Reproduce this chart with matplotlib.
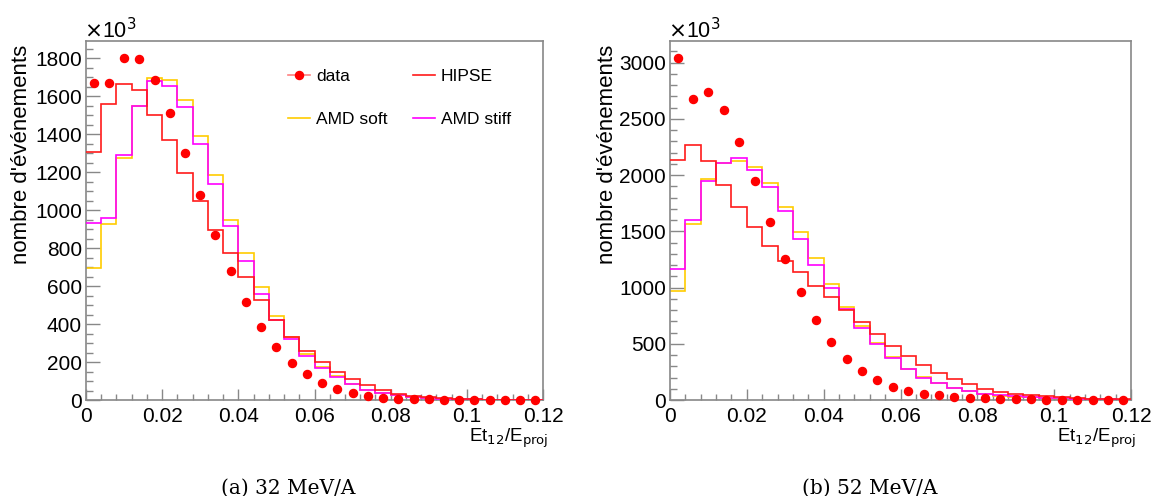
import numpy as np
import matplotlib
matplotlib.use("Agg")
import matplotlib.pyplot as plt
from matplotlib.lines import Line2D
from matplotlib.ticker import MultipleLocator

# ---------------- data (values in units of 10^3) ----------------
bin_edges = np.linspace(0.0, 0.12, 31)
bin_centers = 0.5 * (bin_edges[:-1] + bin_edges[1:])

data_32 = [1670, 1670, 1800, 1797, 1688, 1512, 1302, 1082, 867, 680, 517, 384, 278, 197, 136,
           91, 60, 39, 23, 12, 7, 5, 3, 2, 1, 1, 1, 0, 0, 0]
hipse_32 = [1306, 1561, 1665, 1633, 1503, 1371, 1198, 1047, 898, 774, 646, 526, 422, 331, 260,
            202, 146, 111, 79, 53, 32, 23, 14, 9, 5, 3, 2, 1, 1, 1]
amd_soft_32 = [697, 929, 1276, 1552, 1697, 1686, 1580, 1389, 1184, 950, 774, 593, 445, 334, 241,
               173, 124, 85, 53, 36, 25, 17, 11, 7, 4, 3, 2, 1, 1, 0]
amd_stiff_32 = [934, 959, 1292, 1552, 1681, 1653, 1545, 1350, 1139, 919, 732, 560, 422, 320, 232,
                171, 121, 83, 51, 35, 25, 18, 12, 7, 5, 3, 2, 1, 1, 0]

data_52 = [3043, 2679, 2735, 2579, 2292, 1946, 1585, 1250, 957, 709, 520, 366, 256, 177, 119,
           84, 56, 41, 29, 20, 14, 10, 7, 5, 3, 2, 2, 1, 1, 1]
hipse_52 = [2138, 2268, 2129, 1913, 1715, 1543, 1368, 1239, 1135, 1017, 919, 804, 695, 590, 483,
            395, 310, 242, 183, 138, 94, 70, 52, 41, 32, 25, 18, 12, 8, 5]
amd_soft_52 = [970, 1561, 1969, 2111, 2129, 2070, 1928, 1715, 1493, 1263, 1028, 828, 656, 508, 381,
               280, 205, 150, 110, 80, 56, 40, 30, 24, 18, 13, 9, 6, 4, 3]
amd_stiff_52 = [1165, 1603, 1949, 2111, 2155, 2046, 1898, 1680, 1431, 1200, 999, 813, 644, 500, 372,
                272, 200, 147, 109, 79, 56, 41, 32, 26, 20, 15, 10, 7, 5, 3]

x_ticks = [0, 0.02, 0.04, 0.06, 0.08, 0.1, 0.12]
x_tick_labels = ["0", "0.02", "0.04", "0.06", "0.08", "0.1", "0.12"]
captions = ["(a) 32 MeV/A", "(b) 52 MeV/A"]
legend_labels = ["data", "HIPSE", "AMD soft", "AMD stiff"]

# ---------------- style ----------------
plt.rcParams['font.family'] = ['Liberation Sans', 'DejaVu Sans']
C_DATA = '#ff0000'
C_HIPSE = '#ff1a1a'
C_SOFT = '#ffcc00'
C_STIFF = '#ff00ff'
GREY = '#888888'

W, H = 1155, 496
fig = plt.figure(figsize=(W / 100, H / 100), dpi=100)


def px_axes(x0, x1, ytop, ybot):
    return fig.add_axes([x0 / W, 1 - ybot / H, (x1 - x0) / W, (ybot - ytop) / H])


axL = px_axes(86, 543, 41, 400)
axR = px_axes(670, 1131, 41, 400)

panels = [
    (axL, data_32, hipse_32, amd_soft_32, amd_stiff_32, 1892, 200, 50),
    (axR, data_52, hipse_52, amd_soft_52, amd_stiff_52, 3193, 500, 100),
]

for ax, dat, hip, soft, stiff, ymax, ymaj, ymin in panels:
    ax.stairs(soft, bin_edges, color=C_SOFT, lw=1.2, baseline=None, zorder=2)
    ax.stairs(stiff, bin_edges, color=C_STIFF, lw=1.2, baseline=None, zorder=3)
    ax.stairs(hip, bin_edges, color=C_HIPSE, lw=1.2, baseline=None, zorder=4)
    ax.plot(bin_centers, dat, 'o', color=C_DATA, ms=5.8, mec=C_DATA, zorder=5, clip_on=False)
    ax.set_xlim(0, 0.12)
    ax.set_ylim(0, ymax)
    ax.set_xticks(x_ticks)
    ax.set_xticklabels(x_tick_labels)
    ax.xaxis.set_minor_locator(MultipleLocator(0.004))
    ax.yaxis.set_major_locator(MultipleLocator(ymaj))
    ax.yaxis.set_minor_locator(MultipleLocator(ymin))
    ax.tick_params(axis='both', which='both', direction='in', colors=GREY, labelcolor='black',
                   labelsize=15, width=1.0)
    ax.tick_params(axis='y', which='major', length=10, pad=3)
    ax.tick_params(axis='y', which='minor', length=5)
    ax.tick_params(axis='x', which='major', length=8, pad=5)
    ax.tick_params(axis='x', which='minor', length=4)
    for sp in ax.spines.values():
        sp.set_color(GREY)
        sp.set_linewidth(1.2)
    ax.text(-0.005, 1.0084, r'$\times$10$^{3}$', transform=ax.transAxes, fontsize=15.5,
            ha='left', va='baseline')
    ax.text(1.012, -0.075, r'Et$_{12}$/E$_{\mathrm{proj}}$', transform=ax.transAxes,
            fontsize=13.5, ha='right', va='top')
    ax.set_ylabel("nombre d'événements", fontsize=16, loc='top')

axL.yaxis.set_label_coords(-0.118, 0.99)
axR.yaxis.set_label_coords(-0.113, 0.99)

# legend (left panel only)
h_data = Line2D([], [], color='#ff8080', lw=1.2, marker='o', ms=5.8, mfc=C_DATA, mec=C_DATA)
h_hip = Line2D([], [], color=C_HIPSE, lw=1.2)
h_soft = Line2D([], [], color=C_SOFT, lw=1.2)
h_stiff = Line2D([], [], color=C_STIFF, lw=1.2)
axL.legend([h_data, h_soft, h_hip, h_stiff],
           [legend_labels[0], legend_labels[2], legend_labels[1], legend_labels[3]],
           ncol=2, frameon=False, fontsize=12.5, handlelength=1.25, handletextpad=0.35,
           labelspacing=1.62, columnspacing=1.5, borderpad=0, borderaxespad=0,
           loc='upper left', bbox_to_anchor=(288 / W, 1 - 69 / H),
           bbox_transform=fig.transFigure)

# captions
for cx, cap in zip([288, 870], captions):
    fig.text(cx / W, 1 - 488 / H, cap, fontsize=14.5, family=['DejaVu Serif'],
             ha='center', va='center')

fig.savefig('out.png', dpi=100)
